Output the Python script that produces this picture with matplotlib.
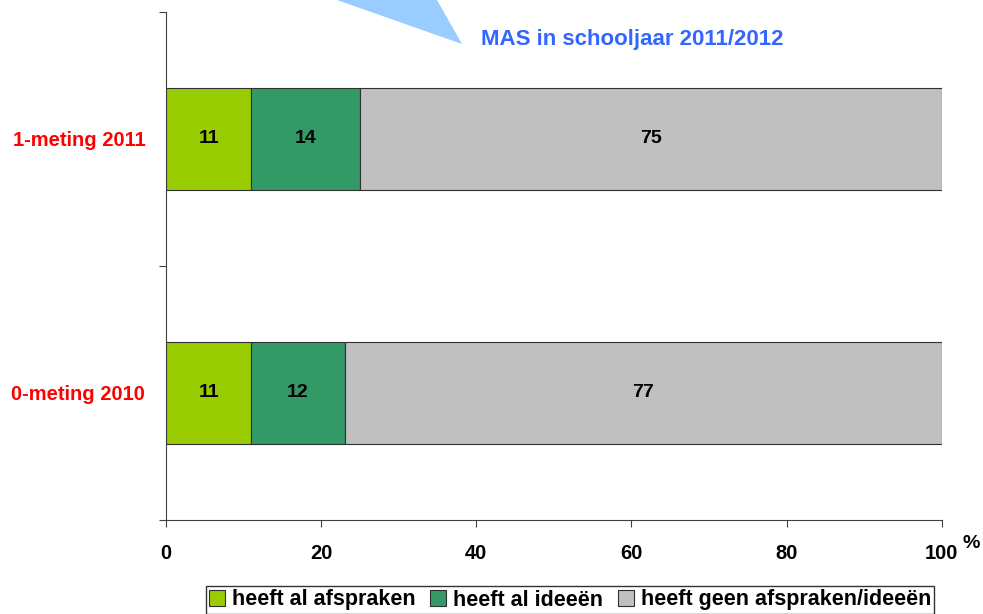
import matplotlib.pyplot as plt
from matplotlib.patches import Polygon

plt.rcParams['font.family'] = ['Liberation Sans', 'DejaVu Sans']
plt.rcParams['font.weight'] = 'bold'

categories = ["0-meting 2010", "1-meting 2011"]
series_names = ["heeft al afspraken", "heeft al ideeën", "heeft geen afspraken/ideeën"]
values = [
    [11, 11],
    [12, 14],
    [77, 75],
]
colors = ["#99CC00", "#339966", "#C0C0C0"]
xticks = [0, 20, 40, 60, 80, 100]

fig = plt.figure(figsize=(9.83, 6.14), dpi=100)
ax = fig.add_axes([0.169, 0.153, 0.789, 0.828])

ypos = list(range(len(categories)))
left = [0] * len(categories)
handles = []
for name, vals, col in zip(series_names, values, colors):
    b = ax.barh(ypos, vals, left=left, height=0.4, color=col,
                edgecolor="#303030", linewidth=0.8, label=name)
    handles.append(b)
    for y, l, v in zip(ypos, left, vals):
        ax.text(l + v / 2, y, str(v), ha="center", va="center",
                fontsize=14, fontweight="bold", color="black")
    left = [l + v for l, v in zip(left, vals)]

ax.set_xlim(0, 100)
ax.set_ylim(-0.5, 1.5)
ax.set_xticks(xticks)
ax.set_xticklabels([str(t) for t in xticks], fontsize=14.5, fontweight="bold")
ax.set_yticks([-0.5, 0.5, 1.5])
ax.set_yticklabels([])
ax.set_yticks(ypos, minor=True)
ax.set_yticklabels(categories, minor=True, color="red", fontsize=14.5, fontweight="bold")
ax.tick_params(axis="y", which="minor", length=0, pad=15)
ax.tick_params(axis="y", which="major", direction="out", length=5, color="#404040")
ax.tick_params(axis="x", direction="out", length=5, pad=12, color="#404040")
for s in ["top", "right"]:
    ax.spines[s].set_visible(False)
for s in ["left", "bottom"]:
    ax.spines[s].set_color("#404040")

fig.text(971 / 983, 1 - 543 / 614, "%", fontsize=14, fontweight="bold", ha="center", va="center")

# callout
tri = Polygon([[337 / 983, 1.0], [437 / 983, 1.0], [462 / 983, 1 - 44 / 614]],
              closed=True, transform=fig.transFigure, facecolor="#99CCFF",
              edgecolor="none", clip_on=False)
fig.patches.append(tri)
fig.text(481 / 983, 1 - 40 / 614, "MAS in schooljaar 2011/2012", color="#3366FF",
         fontsize=16, fontweight="bold", ha="left", va="center")

leg = fig.legend(handles, series_names, loc="center", bbox_to_anchor=(570 / 983, 1 - 600 / 614),
                 ncol=3, frameon=True, fancybox=False, edgecolor="black",
                 prop={"size": 15.5, "weight": "bold"}, handlelength=0.75,
                 handleheight=0.75, handletextpad=0.3, columnspacing=0.7,
                 borderpad=0.15, borderaxespad=0)
leg.get_frame().set_linewidth(1.0)

fig.savefig("out.png", dpi=100)
